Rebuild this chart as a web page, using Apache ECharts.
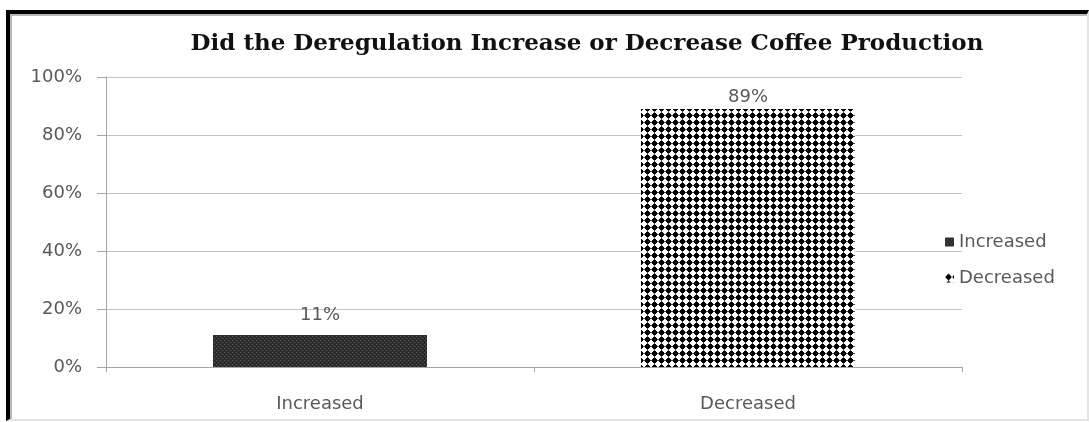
<!DOCTYPE html>
<html>
<head>
<meta charset="utf-8">
<script src="https://cdn.jsdelivr.net/npm/echarts@6/dist/echarts.min.js"></script>
<style>
  html, body { margin: 0; padding: 0; background: #fff; }
  #chart { position: absolute; left: 0; top: 0; width: 1089px; height: 422px; }
  #frame {
    position: absolute; left: 6px; top: 10px; width: 1077px; height: 405px;
    border-top: 4px solid #000; border-left: 4px solid #000;
    border-right: 2px solid #e4e4e4; border-bottom: 2px solid #e4e4e4;
    box-shadow: inset 2px 2px 0 #b8b8b8;
    pointer-events: none;
  }
</style>
</head>
<body>
<div id="chart"></div>
<div id="frame"></div>
<script>
// Survey answers (percent of respondents)
const titleText = 'Did the Deregulation Increase or Decrease Coffee Production';
const categories = ['Increased', 'Decreased'];
const seriesNames = ['Increased', 'Decreased'];
const increasedValues = [11, '-'];
const decreasedValues = ['-', 89];
const yTicks = { min: 0, max: 100, interval: 20 };

// Fill patterns: fine dark checker and a grid of black dots
function darkChecker() {
  const c = document.createElement('canvas');
  c.width = 4; c.height = 4;
  const g = c.getContext('2d');
  g.fillStyle = '#2f2f2f';
  g.fillRect(0, 0, 4, 4);
  g.fillStyle = '#5c5c5c';
  g.fillRect(0, 0, 1, 1);
  g.fillRect(2, 2, 1, 1);
  g.fillStyle = '#1c1c1c';
  g.fillRect(2, 0, 1, 1);
  g.fillRect(0, 2, 1, 1);
  return c;
}
function dotGrid() {
  const c = document.createElement('canvas');
  c.width = 7; c.height = 7;
  const g = c.getContext('2d');
  g.fillStyle = '#ffffff';
  g.fillRect(0, 0, 7, 7);
  g.fillStyle = '#000000';
  // rounded dot, about 5px across
  g.fillRect(2, 1, 3, 5);
  g.fillRect(1, 2, 5, 3);
  g.fillStyle = '#444444';
  g.fillRect(0, 3, 1, 1);
  g.fillRect(6, 3, 1, 1);
  g.fillRect(3, 0, 1, 1);
  g.fillRect(3, 6, 1, 1);
  return c;
}

const axisFont = 'DejaVu Sans';
const textGray = '#595959';

const chart = echarts.init(document.getElementById('chart'), null, { renderer: 'canvas' });
chart.setOption({
  animation: false,
  backgroundColor: '#ffffff',
  title: {
    text: titleText,
    left: 582, top: 28, textAlign: 'center',
    textStyle: { fontFamily: 'DejaVu Serif', fontWeight: 'bold', fontSize: 23, color: '#111' }
  },
  grid: { left: 106, right: 127, top: 77, bottom: 55 },
  legend: {
    orient: 'vertical', left: 940, top: 228,
    itemWidth: 9, itemHeight: 9, itemGap: 18,
    icon: 'rect',
    data: seriesNames,
    textStyle: { fontFamily: axisFont, fontSize: 18, color: textGray }
  },
  xAxis: {
    type: 'category',
    data: categories,
    axisLine: { lineStyle: { color: '#a6a6a6', width: 1 } },
    axisTick: { show: true, length: 5, lineStyle: { color: '#a6a6a6' } },
    axisLabel: { margin: 28, fontFamily: axisFont, fontSize: 18, color: textGray }
  },
  yAxis: {
    type: 'value',
    min: yTicks.min, max: yTicks.max, interval: yTicks.interval,
    axisLine: { show: true, lineStyle: { color: '#a6a6a6', width: 1 } },
    axisTick: { show: true, length: 9, lineStyle: { color: '#a6a6a6' } },
    splitLine: { lineStyle: { color: '#c4c4c4', width: 1 } },
    axisLabel: { margin: 24, fontFamily: axisFont, fontSize: 18, color: textGray, formatter: '{value}%' }
  },
  series: [
    {
      name: seriesNames[0], type: 'bar', stack: 'all',
      data: increasedValues,
      barCategoryGap: '50%',
      itemStyle: { color: { image: darkChecker(), repeat: 'repeat' } },
      label: { show: true, position: 'top', distance: 11, formatter: '{c}%',
               fontFamily: axisFont, fontSize: 18, color: textGray }
    },
    {
      name: seriesNames[1], type: 'bar', stack: 'all',
      data: decreasedValues,
      barCategoryGap: '50%',
      itemStyle: { color: { image: dotGrid(), repeat: 'repeat' } },
      label: { show: true, position: 'top', distance: 3, formatter: '{c}%',
               fontFamily: axisFont, fontSize: 18, color: textGray }
    }
  ]
});
</script>
</body>
</html>
